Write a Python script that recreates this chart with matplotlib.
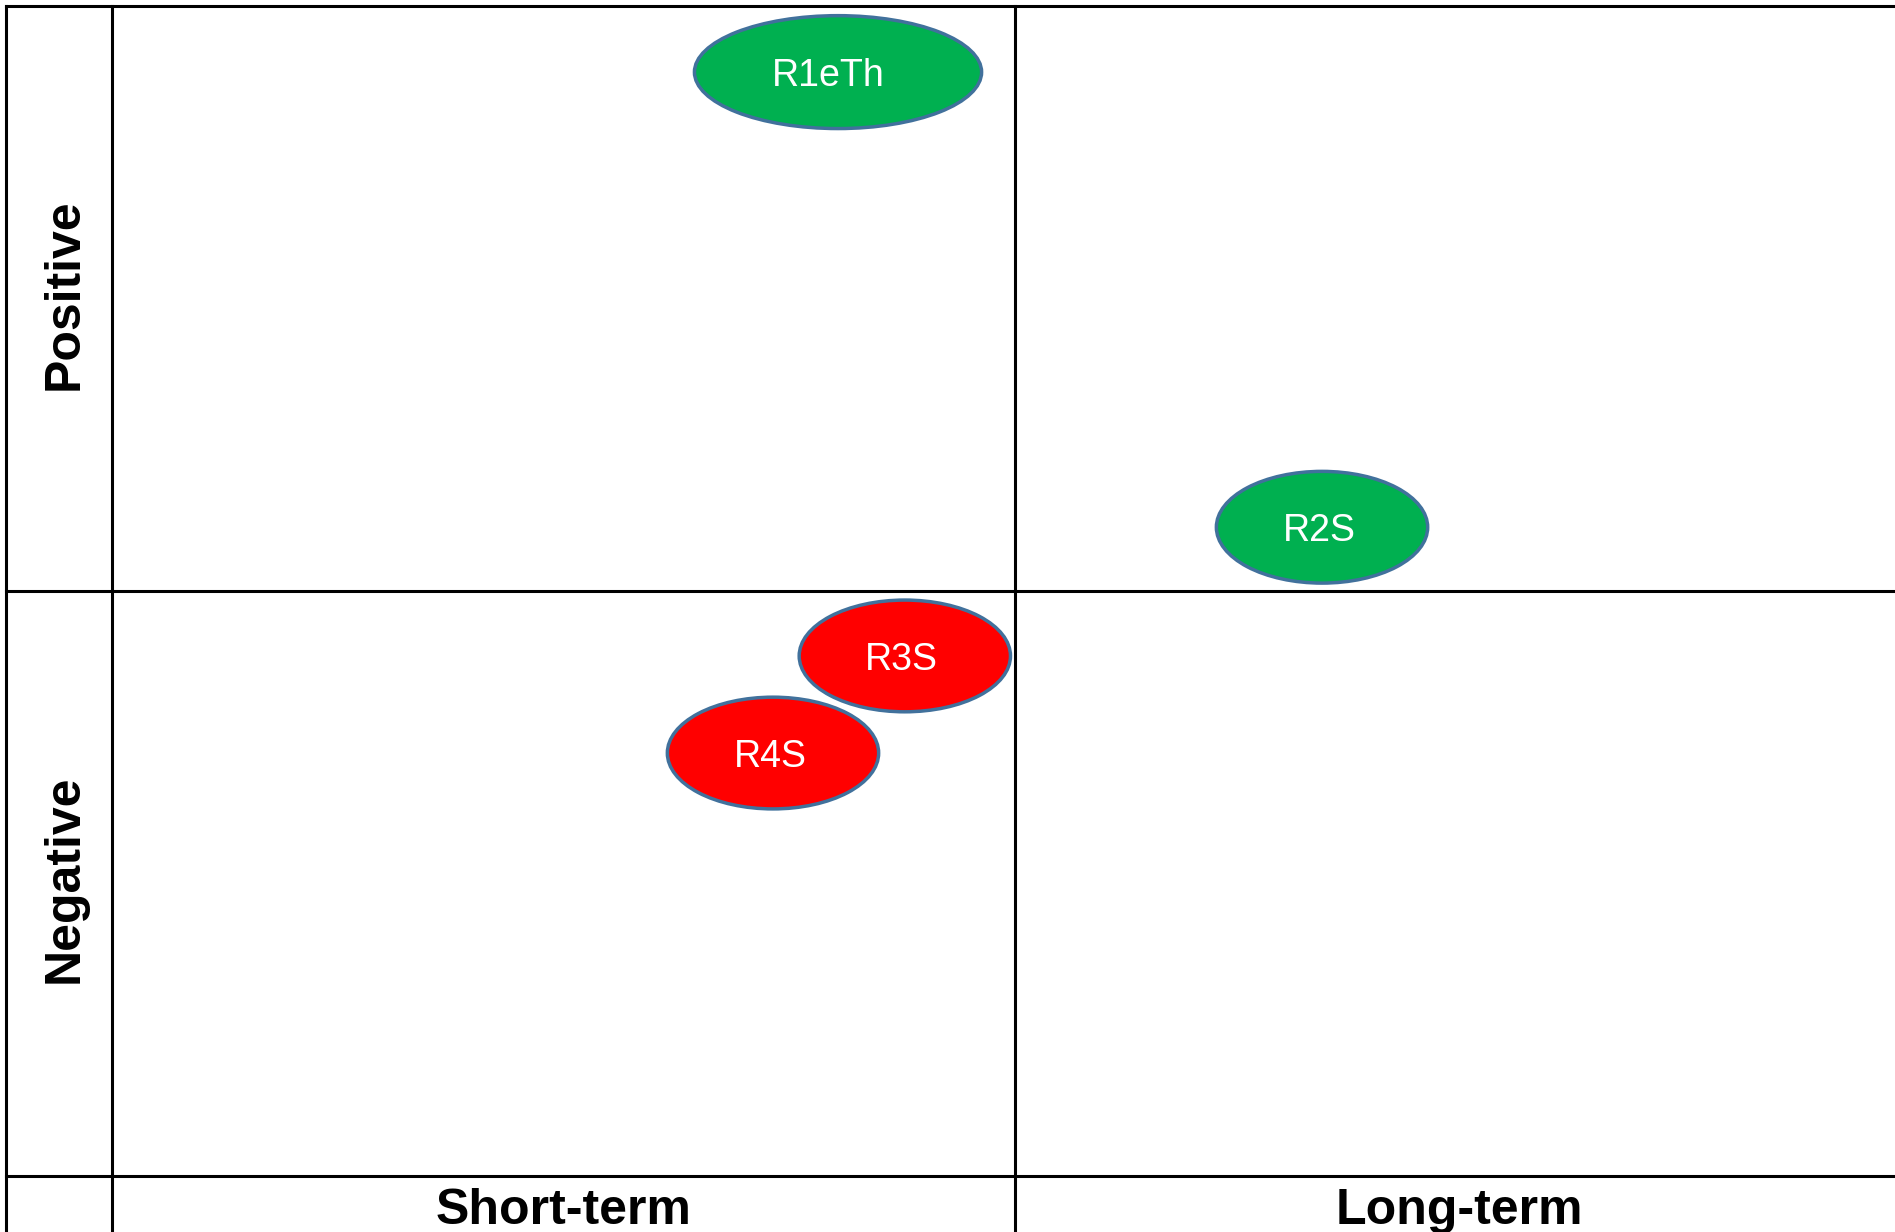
import matplotlib
matplotlib.use("Agg")
import matplotlib.pyplot as plt
from matplotlib.patches import Ellipse

# ---- data ----
col_labels = ["Short-term", "Long-term"]
row_labels = ["Positive", "Negative"]
items = ["R1eTh", "R2S", "R3S", "R4S"]
item_x = [0.804, 1.340, 0.878, 0.732]      # 0-1 short-term, 1-2 long-term
item_y = [0.887, 0.109, -0.111, -0.277]    # >0 positive, <0 negative
item_sign = ["positive", "positive", "negative", "negative"]

# ---- style ----
W, H, DPI = 1895, 1232, 100
fill = {"positive": "#00B050", "negative": "#FF0000"}
edge = "#41719C"
ell_w = [0.318, 0.234, 0.234, 0.234]
ell_h = [0.193, 0.191, 0.191, 0.191]
txt_dx_px = [-10, -3, -3, -3]

fig = plt.figure(figsize=(W / DPI, H / DPI), dpi=DPI)
fig.patch.set_facecolor("white")

# quadrant area in pixels: x 112..1918, y 6..1176
x0, x1 = 112, 1918
ytop, ybot = 6, 1176
ax = fig.add_axes([x0 / W, 1 - ybot / H, (x1 - x0) / W, (ybot - ytop) / H])
ax.set_xlim(0, 2)
ax.set_ylim(-1, 1)
ax.axis("off")

xu = 2 / (x1 - x0)     # data units per pixel (x)
yu = 2 / (ybot - ytop)  # data units per pixel (y)
lab_col = -(x0 - 6) * xu
bottom_ext = -1 - 120 * yu

lw = 2.2
line_kw = dict(color="black", lw=lw, clip_on=False, solid_capstyle="projecting")
# horizontal lines
for yv in [1, 0, -1]:
    ax.plot([lab_col, 2.2], [yv, yv], **line_kw)
# vertical lines
for xv in [lab_col, 0, 1]:
    ax.plot([xv, xv], [1, bottom_ext], **line_kw)

# ellipses
for name, x, y, s, w, h, dx in zip(items, item_x, item_y, item_sign, ell_w, ell_h, txt_dx_px):
    e = Ellipse((x, y), w, h, facecolor=fill[s], edgecolor=edge, lw=2.5, zorder=3)
    ax.add_patch(e)
    ax.text(x + dx * xu, y - 4 * yu, name, color="white", fontsize=27, family="Liberation Sans",
            ha="center", va="center", zorder=4)

# row labels (rotated)
for lab, yc in zip(row_labels, [294, 879]):
    fig.text(78 / W, 1 - yc / H, lab, rotation=90, rotation_mode="anchor",
             ha="center", va="baseline", fontsize=36, fontweight="bold",
             family="Liberation Sans")

# column labels
for lab, xc in zip(col_labels, [0.5, 1.492]):
    ax.text(xc, -1 - (1224 - 1176) * yu, lab, ha="center", va="baseline",
            fontsize=36, fontweight="bold", family="Liberation Sans", clip_on=False)

fig.savefig("out.png", dpi=DPI, facecolor="white")
